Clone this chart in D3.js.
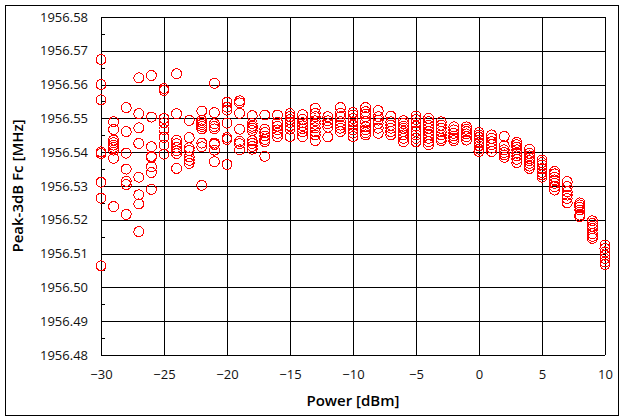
<!DOCTYPE html>
<html><head><meta charset="utf-8">
<script src="https://cdn.jsdelivr.net/npm/d3@7"></script>
<style>body{margin:0;background:#fff}svg{display:block}</style>
</head><body><svg id="c" width="625" height="419"></svg>
<script>
const power = [-30,-29,-28,-27,-26,-25,-24,-23,-22,-21,-20,-19,-18,-17,-16,-15,-14,-13,-12,-11,-10,-9,-8,-7,-6,-5,-4,-3,-2,-1,0,1,2,3,4,5,6,7,8,9,10];
const peakFc = [
[1956.5674,1956.5600,1956.5555,1956.5401,1956.5396,1956.5311,1956.5264,1956.5064],
[1956.5490,1956.5467,1956.5436,1956.5428,1956.5421,1956.5414,1956.5406,1956.5382,1956.5239],
[1956.5532,1956.5461,1956.5397,1956.5350,1956.5314,1956.5304,1956.5216],
[1956.5620,1956.5514,1956.5472,1956.5426,1956.5326,1956.5274,1956.5247,1956.5165],
[1956.5627,1956.5504,1956.5416,1956.5388,1956.5385,1956.5357,1956.5340,1956.5290],
[1956.5588,1956.5583,1956.5500,1956.5487,1956.5467,1956.5444,1956.5421,1956.5394],
[1956.5632,1956.5514,1956.5435,1956.5425,1956.5414,1956.5404,1956.5396,1956.5352],
[1956.5494,1956.5443,1956.5413,1956.5405,1956.5386,1956.5376,1956.5367],
[1956.5522,1956.5494,1956.5488,1956.5482,1956.5476,1956.5469,1956.5427,1956.5416,1956.5302],
[1956.5604,1956.5517,1956.5484,1956.5476,1956.5469,1956.5427,1956.5423,1956.5406,1956.5372],
[1956.5548,1956.5533,1956.5524,1956.5486,1956.5443,1956.5438,1956.5364],
[1956.5552,1956.5546,1956.5515,1956.5468,1956.5432,1956.5425,1956.5407],
[1956.5508,1956.5485,1956.5477,1956.5471,1956.5464,1956.5434,1956.5426,1956.5417,1956.5409],
[1956.5510,1956.5468,1956.5458,1956.5448,1956.5438,1956.5431,1956.5388],
[1956.5510,1956.5488,1956.5477,1956.5466,1956.5456,1956.5446],
[1956.5514,1956.5506,1956.5497,1956.5488,1956.5478,1956.5468,1956.5446],
[1956.5511,1956.5497,1956.5487,1956.5478,1956.5469,1956.5460,1956.5446],
[1956.5530,1956.5515,1956.5505,1956.5493,1956.5483,1956.5472,1956.5461,1956.5451,1956.5434],
[1956.5505,1956.5493,1956.5484,1956.5474,1956.5445],
[1956.5532,1956.5515,1956.5505,1956.5490,1956.5480,1956.5471,1956.5461],
[1956.5517,1956.5510,1956.5500,1956.5490,1956.5480,1956.5466,1956.5456,1956.5446],
[1956.5532,1956.5520,1956.5513,1956.5505,1956.5490,1956.5475,1956.5466,1956.5458,1956.5451],
[1956.5523,1956.5505,1956.5495,1956.5485,1956.5471,1956.5456],
[1956.5507,1956.5490,1956.5480,1956.5471,1956.5461,1956.5451],
[1956.5493,1956.5485,1956.5477,1956.5471,1956.5461,1956.5451,1956.5441,1956.5431],
[1956.5507,1956.5497,1956.5487,1956.5477,1956.5461,1956.5451,1956.5441,1956.5431],
[1956.5500,1956.5490,1956.5480,1956.5471,1956.5461,1956.5451,1956.5441,1956.5431,1956.5422],
[1956.5490,1956.5480,1956.5471,1956.5461,1956.5451,1956.5441,1956.5434],
[1956.5475,1956.5466,1956.5456,1956.5448,1956.5441,1956.5434],
[1956.5475,1956.5468,1956.5461,1956.5454,1956.5446,1956.5436],
[1956.5458,1956.5451,1956.5444,1956.5436,1956.5428,1956.5419,1956.5409,1956.5402],
[1956.5451,1956.5441,1956.5431,1956.5422,1956.5412,1956.5402],
[1956.5447,1956.5419,1956.5407,1956.5399,1956.5392,1956.5385],
[1956.5429,1956.5422,1956.5415,1956.5407,1956.5397,1956.5389,1956.5379,1956.5369],
[1956.5409,1956.5397,1956.5389,1956.5382,1956.5375,1956.5367,1956.5359,1956.5352],
[1956.5377,1956.5369,1956.5362,1956.5352,1956.5340,1956.5333,1956.5326],
[1956.5343,1956.5336,1956.5326,1956.5318,1956.5308,1956.5298,1956.5288],
[1956.5313,1956.5298,1956.5283,1956.5273,1956.5263,1956.5250],
[1956.5250,1956.5244,1956.5237,1956.5229,1956.5214,1956.5209],
[1956.5197,1956.5189,1956.5181,1956.5174,1956.5159,1956.5151,1956.5145],
[1956.5125,1956.5115,1956.5105,1956.5095,1956.5085,1956.5075,1956.5068]
];
const xTicks = [-30,-25,-20,-15,-10,-5,0,5,10];
const yTicks = [1956.48,1956.49,1956.50,1956.51,1956.52,1956.53,1956.54,1956.55,1956.56,1956.57,1956.58];
const yMinor = [1956.485,1956.495,1956.505,1956.515,1956.525,1956.535,1956.545,1956.555,1956.565,1956.575];
const xTitle = "Power [dBm]";
const yTitle = "Peak-3dB Fc [MHz]";

const svg = d3.select("#c");
const L = 101, R = 605, T = 17, B = 355;
const x = d3.scaleLinear().domain([-30, 10]).range([L, R]);
const y = d3.scaleLinear().domain([1956.48, 1956.58]).range([B, T]);
const font = "'Open Sans', 'DejaVu Sans', sans-serif";

svg.append("rect").attr("x", 5.5).attr("y", 5.5).attr("width", 613).attr("height", 410)
  .attr("fill", "none").attr("stroke", "#000").attr("stroke-width", 1);

const g = svg.append("g");
g.selectAll(".gy").data(yTicks).join("line")
  .attr("x1", L).attr("x2", R).attr("y1", d => Math.round(y(d)) + 0.5).attr("y2", d => Math.round(y(d)) + 0.5)
  .attr("stroke", "#000").attr("stroke-width", 1);
g.selectAll(".gx").data(xTicks).join("line")
  .attr("y1", T).attr("y2", B).attr("x1", d => Math.round(x(d)) + 0.5).attr("x2", d => Math.round(x(d)) + 0.5)
  .attr("stroke", "#000").attr("stroke-width", 1);
g.selectAll(".mt").data(yMinor).join("line")
  .attr("x1", L).attr("x2", L + 4).attr("y1", d => Math.round(y(d)) + 0.5).attr("y2", d => Math.round(y(d)) + 0.5)
  .attr("stroke", "#000");

const yAxis = d3.axisLeft(y).tickValues(yTicks).tickFormat(d3.format(".2f")).tickSize(0).tickPadding(13);
const xAxis = d3.axisBottom(x).tickValues(xTicks).tickFormat(d3.format("d")).tickSize(0).tickPadding(15);
const ya = svg.append("g").attr("transform", `translate(${L},0)`).call(yAxis);
const xa = svg.append("g").attr("transform", `translate(0,${B})`).call(xAxis);
[ya, xa].forEach(a => {
  a.select(".domain").remove();
  a.selectAll("text").attr("font-family", font).attr("font-size", 13).attr("fill", "#111");
});

const pts = [];
power.forEach((p, i) => peakFc[i].forEach(v => pts.push({p, v})));
svg.append("g").selectAll("circle").data(pts).join("circle")
  .attr("cx", d => x(d.p)).attr("cy", d => y(d.v)).attr("r", 5)
  .attr("fill", "none").attr("stroke", "#ff0000").attr("stroke-width", 1)
  .attr("shape-rendering", "crispEdges");

svg.append("text").attr("x", (L + R) / 2).attr("y", 406).attr("text-anchor", "middle")
  .attr("font-family", font).attr("font-size", 15).attr("font-weight", 600).attr("fill", "#000").text(xTitle);
svg.append("text").attr("transform", `translate(23,${(T + B) / 2}) rotate(-90)`).attr("text-anchor", "middle")
  .attr("font-family", font).attr("font-size", 15).attr("font-weight", 600).attr("fill", "#000").text(yTitle);
</script></body></html>
